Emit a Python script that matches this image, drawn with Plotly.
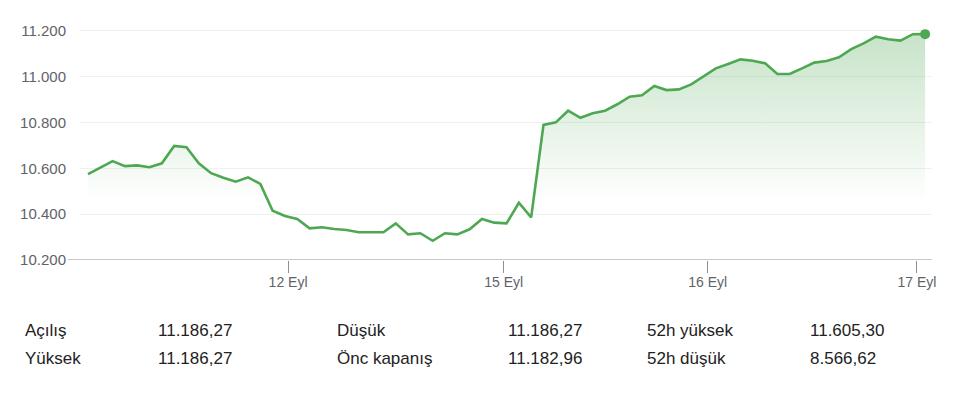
import plotly.graph_objects as go

# ---- data ----
values = [10575, 10603, 10632, 10610, 10613, 10605, 10622, 10698, 10692, 10622,
          10579, 10559, 10542, 10561, 10532, 10415, 10392, 10379, 10338, 10343,
          10335, 10331, 10321, 10321, 10321, 10360, 10312, 10317, 10284, 10317,
          10312, 10334, 10379, 10363, 10360, 10450, 10386, 10790, 10801, 10852,
          10821, 10841, 10852, 10880, 10913, 10919, 10960, 10942, 10945, 10967,
          11003, 11037, 11056, 11076, 11070, 11059, 11012, 11012, 11037, 11062,
          11069, 11085, 11121, 11146, 11175, 11164, 11158, 11186, 11186.27]
x_idx = list(range(len(values)))

x_tick_labels = ["12 Eyl", "15 Eyl", "16 Eyl", "17 Eyl"]
x_tick_index = [16.25, 33.77, 50.34, 67.34]

y_tick_values = [10200, 10400, 10600, 10800, 11000, 11200]
y_tick_labels = ["10.200", "10.400", "10.600", "10.800", "11.000", "11.200"]

stat_labels_col1 = ["Açılış", "Yüksek"]
stat_values_col1 = ["11.186,27", "11.186,27"]
stat_labels_col2 = ["Düşük", "Önc kapanış"]
stat_values_col2 = ["11.186,27", "11.182,96"]
stat_labels_col3 = ["52h yüksek", "52h düşük"]
stat_values_col3 = ["11.605,30", "8.566,62"]

# ---- layout geometry (pixels, page coordinates; page body has an 8px margin) ----
OFF = 8
W, H = 960, 398
L, R, T, B = 80 - OFF, 932 - OFF, 20 - OFF, 260 - OFF
GREEN = "#4ea852"
FONT = "Liberation Sans, Arial, sans-serif"


def px_x(p):
    return (p - OFF - L) / (R - L)


def px_y(p):
    return (B - (p - OFF)) / (B - T)


fig = go.Figure()
fig.add_trace(go.Scatter(
    x=x_idx, y=values, mode="lines",
    line=dict(color=GREEN, width=2.6),
    fill="tozeroy",
    fillgradient=dict(type="vertical",
                      colorscale=[[0, "rgba(78,168,82,0)"], [1, "rgba(78,168,82,0.32)"]],
                      start=10450, stop=11200),
    hoverinfo="skip", showlegend=False,
))
fig.add_trace(go.Scatter(
    x=[x_idx[-1]], y=[values[-1]], mode="markers",
    marker=dict(color=GREEN, size=10),
    hoverinfo="skip", showlegend=False,
))

# bottom axis line extending slightly left of the plot
fig.add_shape(type="line", xref="paper", yref="y",
              x0=px_x(68), x1=1, y0=10200, y1=10200,
              line=dict(color="#8f8f8f", width=1.2))

annotations = []
cols = [(25, stat_labels_col1), (158, stat_values_col1),
        (337, stat_labels_col2), (508, stat_values_col2),
        (647, stat_labels_col3), (810, stat_values_col3)]
rows_y = [330, 358]
for xp, texts in cols:
    for yp, t in zip(rows_y, texts):
        annotations.append(dict(
            text=t, xref="paper", yref="paper", x=px_x(xp - 2), y=px_y(yp),
            xanchor="left", yanchor="middle", showarrow=False,
            font=dict(family=FONT, size=17, color="#222222")))

fig.update_layout(
    width=W, height=H,
    margin=dict(l=L, r=W - R, t=T, b=H - B, pad=0),
    paper_bgcolor="white", plot_bgcolor="white",
    font=dict(family=FONT),
    annotations=annotations,
    xaxis=dict(
        range=[-0.65, 68.56],
        tickmode="array", tickvals=x_tick_index, ticktext=x_tick_labels,
        ticks="outside", ticklen=12, tickcolor="#8f8f8f", tickwidth=1,
        ticklabelstandoff=-3,
        showgrid=False, zeroline=False, showline=False,
        tickfont=dict(family=FONT, size=14, color="#5f6368"),
        fixedrange=True,
    ),
    yaxis=dict(
        range=[10200, 11248],
        tickmode="array", tickvals=y_tick_values, ticktext=y_tick_labels,
        showgrid=True, gridcolor="#f0f0f0", gridwidth=1,
        zeroline=False, showline=False, ticks="",
        ticklabelstandoff=13,
        tickfont=dict(family=FONT, size=15, color="#5f6368"),
        fixedrange=True,
    ),
)

fig.write_html("out.html")
